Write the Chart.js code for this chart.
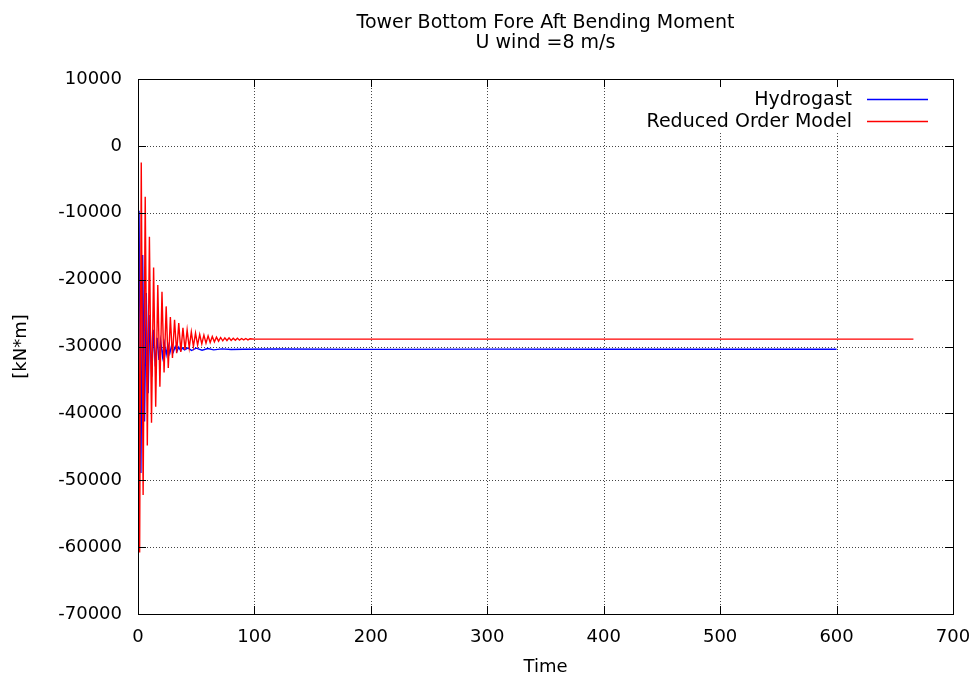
<!DOCTYPE html>
<html>
<head>
<meta charset="utf-8">
<title>Tower Bottom Fore Aft Bending Moment</title>
<script src="https://cdn.jsdelivr.net/npm/chart.js@4.4.0/dist/chart.umd.min.js"></script>
<style>
  body { margin: 0; background: #fff; }
  #wrap { position: relative; width: 976px; height: 679px; }
</style>
</head>
<body>
<div id="wrap"><canvas id="myChart"></canvas></div>
<script>
// Hydrogast (time [s], moment [kN*m])
var hydroTime = [0, 0.9, 2.5, 4.0, 5.6, 7.1, 8.7, 10.2, 11.8, 13.3, 14.9, 16.4, 18.0, 19.5, 21.1, 22.6, 24.2, 25.7, 27.3, 28.8,
  30.4, 32.0, 33.5, 35.0, 36.6, 38.1, 40.0, 43.0, 46.0, 50.0, 55, 60, 65, 72, 80, 90, 120, 200, 300, 400, 500, 600];
var hydroMoment = [-29000, -9700, -48900, -16300, -41200, -22000, -37000, -25300, -34500, -27500, -33000, -28700, -32000, -29200, -31500, -29500, -31200, -29700, -31000, -29900,
  -30800, -30000, -30700, -30100, -30600, -30200, -30500, -30200, -30600, -30250, -30550, -30300, -30500, -30350, -30450, -30400, -30380, -30420, -30390, -30410, -30400, -30400];

// Reduced Order Model
var romTime = [0, 1.4, 2.8, 4.4, 6.2, 8.0, 9.8, 11.6, 13.4, 15.2, 17.0, 18.8, 20.6, 22.4, 24.2, 26.0, 27.8, 29.6, 31.4, 33.2,
  35.0, 36.8, 38.6, 40.4, 42.2, 44.0, 45.8, 47.6, 49.4, 51.2, 53.0, 54.8, 56.6, 58.4, 60.2, 62.0, 63.8, 65.6, 67.4, 69.2,
  71.0, 72.8, 74.6, 76.4, 78.2, 80.0, 81.8, 83.6, 85.4, 87.2, 89.0, 90.8, 92.6, 94.4, 96.2, 100, 666];
var romMoment = [4000, -60800, -2500, -52200, -7600, -44800, -13600, -41400, -18200, -39000, -20800, -36000, -21800, -33900, -24000, -33200, -25600, -31700, -26000, -31000,
  -26500, -30800, -27200, -30500, -27500, -30200, -27800, -30000, -28000, -29800, -28200, -29600, -28300, -29500, -28400, -29400, -28500, -29300, -28600, -29200,
  -28650, -29150, -28700, -29100, -28700, -29100, -28750, -29050, -28750, -29050, -28800, -29000, -28800, -29000, -28850, -28900, -28900];

// tick labels
var xTicks = [0, 100, 200, 300, 400, 500, 600, 700];
var yTicks = [-70000, -60000, -50000, -40000, -30000, -20000, -10000, 0, 10000];

function toPoints(xs, ys) {
    var pts = [];
    for (var i = 0; i < xs.length; i++) {
        pts.push({x: xs[i], y: ys[i]});
    }
    return pts;
}

Chart.defaults.font.family = 'DejaVu Sans';
Chart.defaults.color = '#000';

// gnuplot look: dotted grid, framed box with inward ticks, key top right
var gnuplotFrame = {
    id: 'gnuplotFrame',
    beforeDatasetsDraw: function(chart) {
        var ctx = chart.ctx, a = chart.chartArea;
        var xs = chart.scales.x, ys = chart.scales.y;
        ctx.save();
        ctx.strokeStyle = '#444';
        ctx.lineWidth = 1;
        ctx.setLineDash([1, 2]);
        ctx.beginPath();
        xs.ticks.forEach(function(t, i) {
            if (i == 0 || i == xs.ticks.length - 1) return;
            var px = Math.round(xs.getPixelForValue(t.value)) + 0.5;
            ctx.moveTo(px, a.top);
            ctx.lineTo(px, a.bottom);
        });
        ys.ticks.forEach(function(t, i) {
            if (i == 0 || i == ys.ticks.length - 1) return;
            var py = Math.round(ys.getPixelForValue(t.value)) + 0.5;
            ctx.moveTo(a.left, py);
            ctx.lineTo(a.right, py);
        });
        ctx.stroke();
        ctx.setLineDash([]);
        // clear the key area
        ctx.font = '19px DejaVu Sans';
        var maxW = 0;
        chart.data.datasets.forEach(function(d) {
            maxW = Math.max(maxW, ctx.measureText(d.label).width);
        });
        var textRight = a.right - 101;
        ctx.fillStyle = '#fff';
        ctx.fillRect(textRight - maxW - 40, a.top + 7, a.right - 13 - (textRight - maxW - 40), 47);
        ctx.restore();
    },
    afterDraw: function(chart) {
        var ctx = chart.ctx, a = chart.chartArea;
        var xs = chart.scales.x, ys = chart.scales.y;
        var tl = 8;
        ctx.save();
        ctx.strokeStyle = '#000';
        ctx.lineWidth = 1;
        ctx.setLineDash([]);
        ctx.beginPath();
        xs.ticks.forEach(function(t, i) {
            if (i == 0 || i == xs.ticks.length - 1) return;
            var px = Math.round(xs.getPixelForValue(t.value)) + 0.5;
            ctx.moveTo(px, a.bottom); ctx.lineTo(px, a.bottom - tl);
            ctx.moveTo(px, a.top); ctx.lineTo(px, a.top + tl);
        });
        ys.ticks.forEach(function(t, i) {
            if (i == 0 || i == ys.ticks.length - 1) return;
            var py = Math.round(ys.getPixelForValue(t.value)) + 0.5;
            ctx.moveTo(a.left, py); ctx.lineTo(a.left + tl, py);
            ctx.moveTo(a.right, py); ctx.lineTo(a.right - tl, py);
        });
        ctx.stroke();
        ctx.strokeRect(Math.round(a.left) + 0.5, Math.round(a.top) + 0.5,
            Math.round(a.right - a.left), Math.round(a.bottom - a.top));

        // key
        ctx.font = '19px DejaVu Sans';
        ctx.textAlign = 'right';
        ctx.textBaseline = 'middle';
        var textRight = a.right - 101;
        chart.data.datasets.forEach(function(d, i) {
            var rowY = a.top + 19.5 + i * 22.5;
            var meta = chart.getDatasetMeta(i);
            ctx.fillStyle = '#000';
            ctx.fillText(d.label, textRight, rowY + 1.5);
            ctx.strokeStyle = meta.dataset.options.borderColor;
            ctx.lineWidth = 1.4;
            ctx.beginPath();
            ctx.moveTo(a.right - 86, Math.round(rowY) + 0.5);
            ctx.lineTo(a.right - 25, Math.round(rowY) + 0.5);
            ctx.stroke();
        });
        ctx.restore();
    }
};

var ctx = document.getElementById('myChart').getContext('2d');
var chart = new Chart(ctx, {
    type: 'line',
    data: {
        datasets: [{
            label: 'Hydrogast',
            data: toPoints(hydroTime, hydroMoment),
            borderColor: '#0000ff',
            borderWidth: 1.4,
            pointRadius: 0,
            tension: 0,
            order: 1
        }, {
            label: 'Reduced Order Model',
            data: toPoints(romTime, romMoment),
            borderColor: '#ff0000',
            borderWidth: 1.4,
            pointRadius: 0,
            tension: 0,
            order: 0
        }]
    },
    options: {
        responsive: true,
        maintainAspectRatio: false,
        animation: false,
        layout: { padding: { left: 0, right: 23, top: 0, bottom: 0 } },
        plugins: {
            legend: { display: false },
            tooltip: { enabled: false },
            title: {
                display: true,
                fullSize: false,
                text: ['Tower Bottom Fore Aft Bending Moment', 'U wind =8 m/s'],
                color: '#000',
                font: { size: 19, weight: 'normal', lineHeight: 1.03 },
                padding: { top: 13.6, bottom: 26.3 }
            }
        },
        scales: {
            x: {
                type: 'linear',
                min: xTicks[0],
                max: xTicks[xTicks.length - 1],
                afterBuildTicks: function(scale) {
                    scale.ticks = xTicks.map(function(v) { return {value: v}; });
                },
                afterFit: function(scale) {
                    scale.height = 65;
                    scale.paddingLeft = 0;
                    scale.paddingRight = 0;
                },
                grid: { display: false, drawTicks: false },
                border: { display: false },
                ticks: {
                    padding: 13,
                    maxRotation: 0,
                    font: { size: 18 },
                    callback: function(v) { return String(v); }
                },
                title: {
                    display: true,
                    text: 'Time',
                    font: { size: 18 },
                    padding: { top: 0, bottom: 1 }
                }
            },
            y: {
                type: 'linear',
                min: yTicks[0],
                max: yTicks[yTicks.length - 1],
                afterBuildTicks: function(scale) {
                    scale.ticks = yTicks.map(function(v) { return {value: v}; });
                },
                afterFit: function(scale) { scale.width = 138; },
                grid: { display: false, drawTicks: false },
                border: { display: false },
                ticks: {
                    padding: 16,
                    font: { size: 18 },
                    callback: function(v) { return String(v); }
                },
                title: {
                    display: true,
                    text: '[kN*m]',
                    font: { size: 18 },
                    padding: { top: 11, bottom: 0 }
                }
            }
        }
    },
    plugins: [gnuplotFrame]
});
</script>
</body>
</html>
